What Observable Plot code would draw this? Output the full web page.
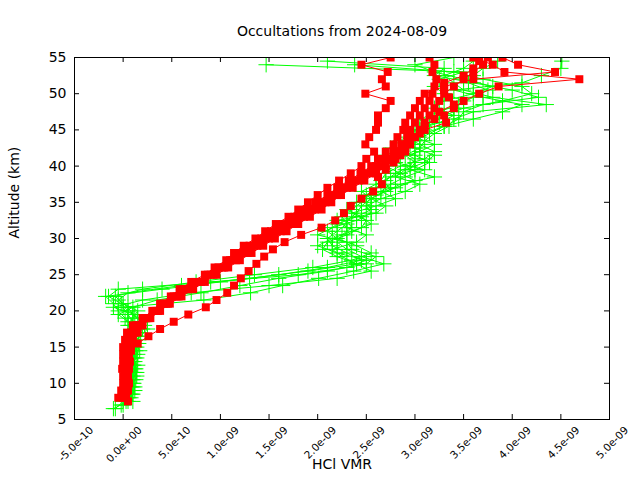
<!DOCTYPE html>
<html>
<head>
<meta charset="utf-8">
<script src="https://cdn.jsdelivr.net/npm/d3@7"></script>
<script src="https://cdn.jsdelivr.net/npm/@observablehq/plot@0.6"></script>
<style>
  html, body { margin: 0; padding: 0; background: #fff; }
  #chart { width: 640px; height: 480px; }
</style>
</head>
<body>
<div id="chart"></div>
<script>
// ---- text ----
const titleText = "Occultations from 2024-08-09";
const xLabelText = "HCl VMR";
const yLabelText = "Altitude (km)";

// ---- ticks (x in units of 1e-9) ----
const xTicks = [-0.5, 0, 0.5, 1.0, 1.5, 2.0, 2.5, 3.0, 3.5, 4.0, 4.5, 5.0];
const xTickLabels = ["-5.0e-10", "0.0e+00", "5.0e-10", "1.0e-09", "1.5e-09", "2.0e-09",
                     "2.5e-09", "3.0e-09", "3.5e-09", "4.0e-09", "4.5e-09", "5.0e-09"];
const yTicks = [5, 10, 15, 20, 25, 30, 35, 40, 45, 50, 55];

// ---- altitude grids (km) ----
const altInt = [6,7,8,9,10,11,12,13,14,15,16,17,18,19,20,21,22,23,24,25,26,27,28,29,30,
  31,32,33,34,35,36,37,38,39,40,41,42,43,44,45,46,47,48,49,50,51,52,53,54,55];
const altHalf = [6.5,7.5,8.5,9.5,10.5,11.5,12.5,13.5,14.5,15.5,16.5,17.5,18.5,19.5,20.5,
  21.5,22.5,23.5,24.5,25.5,26.5,27.5,28.5,29.5,30.5,31.5,32.5,33.5,34.5,35.5,36.5,37.5,
  38.5,39.5,40.5,41.5,42.5,43.5,44.5,45.5,46.5,47.5,48.5,49.5,50.5,51.5,52.5,53.5,54.5];

// ---- red profiles (HCl VMR, units 1e-9) ----
const red1 = [0.0,0.02,0.01,0.0,-0.01,0.0,0.01,0.0,0.02,0.04,
  0.1,0.2,0.3,0.38,0.49,0.58,0.7,0.84,0.94,1.06,
  1.14,1.24,1.36,1.46,1.57,1.7,1.8,1.9,2.0,2.1,
  2.22,2.34,2.45,2.5,2.58,2.49,2.53,2.6,2.62,2.62,
  2.7,2.75,2.49,2.7,2.66,2.72,2.45,2.75];
const red2 = [-0.05,0.0,0.03,0.02,0.03,0.02,0.03,0.05,0.06,0.1,
  0.15,0.24,0.34,0.44,0.55,0.65,0.78,0.9,1.02,1.12,
  1.24,1.35,1.46,1.58,1.7,1.82,1.94,2.04,2.14,2.26,
  2.38,2.5,2.6,2.7,2.78,2.86,2.92,2.95,3.0,3.05,
  3.1,3.15,3.18,3.2,3.22,3.18,3.2,3.15];
const red3 = [0.03,0.05,0.04,0.05,0.06,0.04,0.06,0.08,0.1,0.15,
  0.2,0.28,0.38,0.48,0.6,0.72,0.84,0.96,1.08,1.2,
  1.32,1.44,1.56,1.68,1.8,1.92,2.04,2.14,2.24,2.36,
  2.48,2.6,2.7,2.8,2.9,2.95,3.0,3.05,3.1,3.15,
  3.2,3.25,3.3,3.4,3.5,3.6,3.7,3.75];
const red4 = [0.0,0.04,0.06,0.03,0.05,0.07,0.05,0.04,0.08,0.12,
  0.18,0.26,0.36,0.46,0.57,0.68,0.8,0.93,1.04,1.16,
  1.28,1.38,1.5,1.62,1.75,1.86,1.97,2.08,2.2,2.3,
  2.42,2.55,2.65,2.75,2.85,2.9,3.0,3.1,3.32,3.3,
  3.4,3.5,3.66,3.86,4.69,3.92,3.8,3.6];
const red5 = [0.02,-0.02,0.0,0.04,0.02,0.03,0.0,0.03,0.04,0.08,
  0.13,0.22,0.32,0.42,0.52,0.62,0.74,0.87,0.98,1.1,
  1.2,1.3,1.42,1.52,1.64,1.76,1.88,1.98,2.1,2.2,
  2.32,2.44,2.55,2.62,2.7,2.78,2.82,2.88,2.9,2.95,
  3.0,3.05,3.1,3.3,3.6,4.44,4.06,3.9];
const red6 = [0.05,0.02,0.03,0.02,0.03,0.03,0.04,0.08,0.15,0.26,
  0.38,0.52,0.67,0.85,0.96,1.07,1.14,1.21,1.29,1.37,
  1.45,1.54,1.66,1.83,2.04,2.18,2.27,2.34,2.45,2.57,
  2.66,2.62,2.7,2.78,2.85,2.9,2.95,3.05,3.1,3.2,
  3.25,3.4,3.35,3.3,3.3,3.5,3.6,3.66];

// ---- green profiles (HCl VMR, units 1e-9) ----
const green1 = [-0.08,0.0,0.05,0.08,0.1,0.08,0.1,0.12,0.1,0.12,
  0.14,0.15,0.1,0.05,0.0,0.83,1.31,1.64,2.01,2.37,
  2.68,2.45,2.3,2.2,2.25,2.35,2.3,2.4,2.45,2.55,
  2.7,2.85,3.2,2.95,3.0,2.9,3.05,3.1,3.2,3.35,
  3.4,3.6,4.35,3.8,3.5,3.4,3.3,3.5,3.6];
const green2 = [-0.02,0.06,0.04,0.07,0.1,0.06,0.09,0.11,0.08,0.1,
  0.12,0.08,0.02,-0.05,-0.1,-0.18,0.4,1.0,1.6,2.1,
  2.45,2.3,2.15,2.1,2.2,2.3,2.25,2.35,2.45,2.5,
  2.6,2.7,2.8,2.95,3.0,2.85,2.95,3.05,3.1,3.15,
  3.3,3.4,3.5,3.3,3.2,3.25,3.5,1.47];
const green3 = [0.03,0.1,0.12,0.06,0.12,0.15,0.08,0.13,0.16,0.12,
  0.2,0.18,0.1,0.05,-0.05,0.05,0.6,1.3,1.9,2.4,
  2.2,2.05,2.1,2.3,2.45,2.5,2.35,2.6,2.8,2.65,
  2.75,2.9,3.1,2.8,2.7,2.85,3.0,3.15,3.3,3.45,
  3.5,3.7,4.27,4.0,3.6,3.2,3.3,2.1];
const green4 = [0.08,0.12,0.1,0.14,0.12,0.1,0.15,0.12,0.16,0.1,
  0.05,0.1,0.15,0.0,-0.08,0.2,0.75,1.35,1.95,2.35,
  2.55,2.4,2.2,2.1,2.2,2.4,2.55,2.5,2.6,2.8,
  3.0,2.85,2.7,2.8,3.05,3.2,3.0,3.05,3.2,3.3,
  3.5,3.9,4.2,4.1,3.7,3.4,2.38];
const green5 = [-0.1,0.05,0.09,0.06,0.13,0.1,0.07,0.14,0.06,0.09,
  0.18,0.25,0.05,-0.05,0.1,0.35,0.8,1.2,1.6,2.1,
  2.5,2.6,2.35,2.3,2.0,2.15,2.4,2.55,2.5,2.65,
  2.9,3.05,2.8,2.9,3.1,3.2,3.0,2.95,3.1,3.3,
  3.6,3.9,4.1,3.7,3.4,4.1,4.3,4.5,4.51];
const green6 = [0.0,0.04,0.09,0.11,0.07,0.13,0.12,0.07,0.14,0.11,
  0.16,0.22,0.15,0.05,-0.02,-0.15,-0.05,0.9,1.8,2.3,
  2.5,2.2,2.0,2.15,2.35,2.55,2.45,2.3,2.4,2.55,
  2.75,2.65,2.7,2.85,3.1,3.2,3.05,2.9,3.0,3.25,
  3.4,3.2,3.3,3.6,3.8,3.5,3.2,3.0,3.4];
const green7 = [0.1,0.07,0.1,0.09,0.14,0.11,0.1,0.17,0.13,0.08,
  0.12,0.2,0.12,-0.1,0.2,0.7,1.5,2.2,2.55,2.4,
  2.25,2.15,2.4,2.5,2.3,2.2,2.6,2.7,2.55,2.45,
  2.6,2.75,3.0,3.15,3.0,2.75,2.85,2.95,3.1,3.05,
  3.25,3.45,3.6,3.75,3.55,3.6,3.7,3.85];

// ---- build tables ----
function rows(id, alts, vals) {
  const n = Math.min(alts.length, vals.length);
  const out = [];
  for (let i = 0; i < n; i++) out.push({id, alt: alts[i], v: vals[i]});
  return out;
}
const redRows = [
  ...rows("r1", altInt.slice(2), red1),
  ...rows("r2", altInt.slice(2), red2),
  ...rows("r3", altInt.slice(2), red3),
  ...rows("r4", altInt.slice(2), red4),
  ...rows("r5", altInt.slice(2), red5),
  ...rows("r6", altHalf.slice(1), red6)
];
const greenRows = [
  ...rows("g1", altHalf, green1),
  ...rows("g2", altInt.slice(1), green2),
  ...rows("g3", altHalf.slice(1), green3),
  ...rows("g4", altInt.slice(2), green4),
  ...rows("g5", altHalf, green5),
  ...rows("g6", altInt.slice(1), green6),
  ...rows("g7", altHalf.slice(1), green7)
];

const W = 640, H = 480, mL = 74, mR = 31, mT = 57, mB = 61;
const frameW = W - mL - mR, frameH = H - mT - mB;
const tickLen = 5;
const GREEN = "#00ff00", RED = "#ff0000";

const chart = Plot.plot({
  width: W, height: H,
  marginLeft: mL, marginRight: mR, marginTop: mT, marginBottom: mB,
  style: {fontFamily: "DejaVu Sans", background: "#fff", color: "#000"},
  x: {domain: [-0.5, 5.0]},
  y: {domain: [5, 55]},
  marks: [
    Plot.line(greenRows, {x: "v", y: "alt", z: "id", stroke: GREEN, strokeWidth: 1, clip: true}),
    Plot.dot(greenRows, {x: "v", y: "alt", symbol: "plus", stroke: GREEN, strokeWidth: 1, r: 5, clip: true}),
    Plot.line(redRows, {x: "v", y: "alt", z: "id", stroke: RED, strokeWidth: 1, clip: true}),
    Plot.dot(redRows, {x: "v", y: "alt", symbol: "square", fill: RED, stroke: "none", r: 4.5, clip: true}),
    Plot.frame({stroke: "#000", strokeWidth: 1}),
    // inward ticks on all four sides
    Plot.tickX(xTicks, {x: d => d, stroke: "#000", insetTop: frameH - tickLen}),
    Plot.tickX(xTicks, {x: d => d, stroke: "#000", insetBottom: frameH - tickLen}),
    Plot.tickY(yTicks, {y: d => d, stroke: "#000", insetRight: frameW - tickLen}),
    Plot.tickY(yTicks, {y: d => d, stroke: "#000", insetLeft: frameW - tickLen}),
    Plot.axisX({ticks: xTicks, tickSize: 0, tickPadding: 9, tickRotate: -45, textAnchor: "end",
      tickFormat: d => xTickLabels[xTicks.indexOf(d)], fontSize: 10.5, dx: 17, label: null}),
    Plot.axisY({ticks: yTicks, tickSize: 0, tickPadding: 8, fontSize: 14, label: null}),
    Plot.text([titleText], {frameAnchor: "top", dy: -31, fontSize: 14, fill: "#000"}),
    Plot.text([xLabelText], {frameAnchor: "bottom", dy: 49, fontSize: 14, fill: "#000"}),
    Plot.text([yLabelText], {frameAnchor: "left", dx: -60, rotate: -90, fontSize: 14, fill: "#000"})
  ]
});
document.getElementById("chart").appendChild(chart);
</script>
</body>
</html>
